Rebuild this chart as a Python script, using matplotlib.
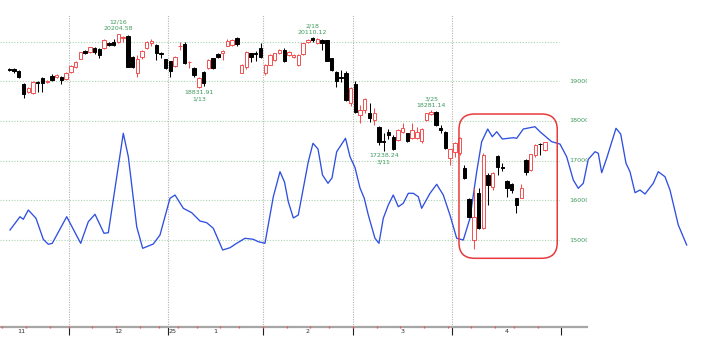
import numpy as np
import pandas as pd
import matplotlib
matplotlib.use('Agg')
import matplotlib.pyplot as plt
import matplotlib.transforms as mtransforms
from matplotlib.patches import FancyBboxPatch

plt.rcParams['font.family'] = ['DejaVu Sans']

# trading days shown (Nov 2024 - Apr 2025)
dates = [
    '2024-11-12', '2024-11-13', '2024-11-14', '2024-11-15', '2024-11-18', '2024-11-19', '2024-11-20',
    '2024-11-21', '2024-11-22', '2024-11-25', '2024-11-26', '2024-11-27', '2024-11-29',
    '2024-12-02', '2024-12-03', '2024-12-04', '2024-12-05', '2024-12-06', '2024-12-09', '2024-12-10',
    '2024-12-11', '2024-12-12', '2024-12-13', '2024-12-16', '2024-12-17', '2024-12-18', '2024-12-19',
    '2024-12-20', '2024-12-23', '2024-12-24', '2024-12-26', '2024-12-27', '2024-12-30', '2024-12-31',
    '2025-01-02', '2025-01-03', '2025-01-06', '2025-01-07', '2025-01-08', '2025-01-10', '2025-01-13',
    '2025-01-14', '2025-01-15', '2025-01-16', '2025-01-17', '2025-01-21', '2025-01-22', '2025-01-23',
    '2025-01-24', '2025-01-27', '2025-01-28', '2025-01-29', '2025-01-30', '2025-01-31',
    '2025-02-03', '2025-02-04', '2025-02-05', '2025-02-06', '2025-02-07', '2025-02-10', '2025-02-11',
    '2025-02-12', '2025-02-13', '2025-02-14', '2025-02-18', '2025-02-19', '2025-02-20', '2025-02-21',
    '2025-02-24', '2025-02-25', '2025-02-26', '2025-02-27', '2025-02-28',
    '2025-03-03', '2025-03-04', '2025-03-05', '2025-03-06', '2025-03-07', '2025-03-10', '2025-03-11',
    '2025-03-12', '2025-03-13', '2025-03-14', '2025-03-17', '2025-03-18', '2025-03-19', '2025-03-20',
    '2025-03-21', '2025-03-24', '2025-03-25', '2025-03-26', '2025-03-27', '2025-03-28', '2025-03-31',
    '2025-04-01', '2025-04-02', '2025-04-03', '2025-04-04', '2025-04-07', '2025-04-08', '2025-04-09',
    '2025-04-10', '2025-04-11', '2025-04-14', '2025-04-15', '2025-04-16', '2025-04-17', '2025-04-21',
    '2025-04-22', '2025-04-23', '2025-04-24', '2025-04-25', '2025-04-28', '2025-04-29',
]

opens = [
    19305, 19300, 19270, 18930, 18740, 18710, 18995, 19085, 18990, 19135, 19110, 19110, 19060,
    19235, 19360, 19562, 19764, 19740, 19845, 19810, 19832, 19960, 20000, 19990, 20085, 20150, 19620,
    19200, 19620, 19832, 19960, 19915, 19720, 19555,
    19500, 19386, 19880, 19940, 19480, 19328, 18864, 19240, 19328, 19580, 19690, 19706, 19890, 19915,
    20084, 19220, 19370, 19706, 19720, 19832,
    19200, 19411, 19537, 19706, 19790, 19660, 19620, 19411, 19680, 19983, 20100, 19975, 20040, 20040,
    19595, 19242, 19110, 19202, 18446,
    18925, 18151, 18277, 18194, 18025, 17856, 17500, 17730, 17605, 17520, 17730, 17690, 17565, 17565,
    17500, 18025, 18170, 18220, 17830, 17730, 17060,
    17212, 17193, 16808, 16035, 15001, 16178, 15296, 16640, 16345, 17118, 16840, 16488, 16405, 16052,
    16067, 17017, 16765, 17143, 17425, 17269,
]
highs = [
    19345, 19330, 19290, 18950, 18860, 19000, 19000, 19110, 19040, 19180, 19180, 19130, 19230,
    19410, 19500, 19750, 19790, 19870, 19860, 19850, 20060, 19990, 20060, 20204.58, 20140, 20160, 19640,
    19660, 19790, 20020, 20060, 19940, 19730, 19570,
    19520, 19640, 20000, 19980, 19520, 19370, 19100, 19250, 19560, 19600, 19720, 19790, 20070, 20060,
    20120, 19430, 19760, 19720, 19760, 19976,
    19430, 19680, 19720, 19810, 19830, 19760, 19690, 19680, 19970, 20060, 20110.12, 20080, 20060, 20050,
    19600, 19260, 19285, 19260, 18850,
    19010, 18400, 18580, 18446, 18330, 17880, 17690, 17790, 17640, 17790, 17942, 17700, 17942, 17850,
    17830, 18210, 18281.14, 18250, 17900, 17750, 17300,
    17460, 17600, 16900, 16060, 16304, 16300, 17200, 16680, 16720, 17140, 16940, 16520, 16440, 16070,
    16405, 17050, 17180, 17410, 17440, 17480,
]
lows = [
    19250, 19210, 19090, 18590, 18700, 18690, 18740, 18730, 18960, 19000, 19090, 18935, 19045,
    19220, 19340, 19550, 19690, 19720, 19680, 19600, 19820, 19890, 19880, 19960, 19990, 19360, 19330,
    19100, 19560, 19820, 19900, 19540, 19580, 19300,
    19120, 19370, 19790, 19440, 19330, 19100, 18831.91, 18880, 19300, 19300, 19600, 19540, 19880, 19880,
    19900, 19200, 19300, 19494, 19500, 19600,
    19150, 19400, 19520, 19690, 19480, 19640, 19580, 19390, 19670, 19970, 19990, 19950, 19790, 19500,
    19270, 18864, 18990, 18510, 18370,
    18200, 17942, 18200, 17982, 17900, 17395, 17238.24, 17540, 17260, 17500, 17700, 17460, 17550, 17540,
    17440, 18000, 18150, 17880, 17690, 17300, 16890,
    17100, 17150, 16540, 15570, 14784, 15270, 15270, 15883, 16250, 16640, 16730, 16092, 16178, 15674,
    16050, 16640, 16750, 17100, 17143, 17250,
]
closes = [
    19285, 19265, 19107, 18670, 18820, 18987, 18950, 18960, 19003, 19035, 19160, 19035, 19210,
    19386, 19487, 19735, 19714, 19860, 19740, 19665, 20030, 19915, 19915, 20190, 20110, 19370, 19370,
    19573, 19772, 20000, 20020, 19706, 19690, 19328,
    19270, 19620, 19895, 19455, 19494, 19160, 19076, 18970, 19537, 19328, 19620, 19770, 20016, 20040,
    19940, 19400, 19746, 19620, 19700, 19620,
    19411, 19663, 19706, 19790, 19520, 19750, 19663, 19663, 19958, 20040, 20041, 20060, 19958, 19512,
    19285, 19008, 19090, 18529, 18824,
    18234, 18277, 18554, 18068, 18194, 17478, 17463, 17648, 17295, 17773, 17816, 17496, 17773, 17715,
    17810, 18194, 18234, 17900, 17775, 17312, 17294,
    17438, 17564, 16556, 15588, 15588, 15296, 17143, 16387, 16682, 16848, 16824, 16304, 16261, 15883,
    16304, 16722, 17160, 17395, 17410, 17463,
]

# blue projection line (trading-day position, value), runs past the last candle
cycle_pos = [
    0.15, 2.26, 2.95, 4.01, 5.63, 7.17, 8.23, 9.07, 12.11, 15.06, 16.67, 18.08, 19.98, 20.89,
    24.05, 25.11, 26.88, 28.14, 30.38, 31.79, 33.90, 34.96, 36.71, 38.48, 40.23, 41.65, 43.04,
    45.02, 46.56, 47.97, 49.73, 51.48, 52.53, 53.94, 55.70, 57.11, 58.06, 58.86, 59.92, 60.97,
    63.08, 64.07, 65.13, 66.08, 67.24, 68.08, 69.07, 70.93, 71.88, 72.93, 73.99, 74.89, 75.74,
    77.15, 77.99, 78.90, 79.96, 81.01, 82.07, 83.12, 84.18, 85.23, 86.29, 87.00, 88.76, 90.17,
    91.56, 92.97, 94.39, 95.78, 97.19, 98.61, 99.66, 100.93, 101.90, 102.83, 104.01, 106.33,
    107.05, 108.44, 110.91, 111.96, 114.43, 116.18, 117.59, 118.99, 120.04, 121.10, 122.15,
    123.57, 124.26, 124.98, 126.03, 128.00, 128.99, 130.11, 130.95, 132.01, 133.06, 134.12,
    135.86, 136.92, 138.33, 139.39, 141.14, 142.91,
]
cycle_val = [
    15253, 15588, 15523, 15757, 15548, 15019, 14893, 14918, 15588, 14918, 15462, 15649, 15170, 15185,
    17690, 17100, 15336, 14792, 14900, 15127, 16052, 16135, 15800, 15689, 15480, 15437, 15296,
    14749, 14807, 14918, 15044, 15019, 14958, 14918, 16092, 16722, 16463, 15966, 15556, 15631,
    16974, 17438, 17294, 16639, 16430, 16564, 17226, 17564, 17100, 16828, 16312, 16052, 15631,
    15044, 14918, 15548, 15883, 16135, 15840, 15926, 16178, 16178, 16092, 15800, 16178, 16405,
    16135, 15631, 15044, 15001, 15548, 16722, 17478, 17798, 17604, 17730, 17546, 17579,
    17564, 17798, 17856, 17730, 17478, 17420, 17100, 16513, 16304, 16430, 17035,
    17226, 17186, 16697, 17060, 17816, 17672, 16934, 16722, 16193, 16261, 16160,
    16430, 16722, 16596, 16261, 15379, 14875,
]

# first trading-day slot of each month (Nov starts before the window, May is in the projection)
month_first = [-7, 13, 34, 54, 73, 94, 117]
month_names = ['11', '12', '1', '2', '3', '4']
year_label = '25'

grid_levels = [20000, 19000, 18000, 17000, 16000, 15000]
price_labels = [19000, 18000, 17000, 16000, 15000]

ann_pos = [23, 40, 64, 79, 89]
ann_date = ['12/16', '1/13', '2/18', '3/11', '3/25']
ann_val = [20204.58, 18831.91, 20110.12, 17238.24, 18281.14]
ann_side = ['high', 'low', 'high', 'low', 'high']

RED = '#f25050'
BLACK = '#000000'
GREEN_TXT = '#3f9a5e'
GRID_GREEN = '#a8d4b0'

fig = plt.figure(figsize=(7.06, 3.40), dpi=100)
ax = fig.add_axes([0, 13 / 340, 587 / 706, 327 / 340])
ax.set_xlim(-1.962, 121.88)
ax.set_ylim(12808.8, 21049.2)

x = np.arange(len(dates))
o = np.array(opens, float)
h = np.array(highs, float)
l = np.array(lows, float)
c = np.array(closes, float)
up = c >= o

# grid
ax.hlines(grid_levels, -1.962, 116, colors=GRID_GREEN, linestyles=(0, (1, 1.5)), lw=0.8, zorder=1)
vx = [m - 0.5 for m in month_first if 0 < m < len(dates)]
ax.vlines(vx, ax.get_ylim()[0], 20671, colors='#b4b4b4', linestyles=(0, (1, 1.2)), lw=0.8, zorder=1)

# blue line
ax.plot(cycle_pos, cycle_val, color='#2f50e0', lw=0.95, zorder=2, clip_on=False)

# candles
col = np.where(up, RED, BLACK)
ax.vlines(x, l, h, colors=col, lw=0.75, zorder=3)
body_lo = np.minimum(o, c)
body_h = np.maximum(np.abs(c - o), 6)
ax.bar(x, body_h, bottom=body_lo, width=0.72, color=np.where(up, 'white', BLACK),
       edgecolor=col, linewidth=0.7, zorder=4)

# high / low notes
for p, d, v, s in zip(ann_pos, ann_date, ann_val, ann_side):
    txt = f'{v:.2f}'
    sign = 1 if s == 'high' else -1
    ax.annotate(txt, (p, v), xytext=(0, 3.3 * sign), textcoords='offset points', ha='center',
                va='center', fontsize=4.5, color=GREEN_TXT)
    ax.annotate(d, (p, v), xytext=(0, 8.0 * sign), textcoords='offset points', ha='center',
                va='center', fontsize=4.5, color=GREEN_TXT)

# price labels on the right, cut by the panel edge
for v in price_labels:
    ax.text(118.1, v, str(v), ha='left', va='center', fontsize=4.6, color=GREEN_TXT, clip_on=True)

# red rounded box around April
box = FancyBboxPatch((94.87, 14540), 115.6 - 94.87, 18176 - 14540,
                     boxstyle='round,pad=0,rounding_size=3.3', mutation_aspect=119.6,
                     fill=False, edgecolor='#e83a3a', lw=1.1, zorder=5)
ax.add_patch(box)

# axis
for sp in ['top', 'right', 'left']:
    ax.spines[sp].set_visible(False)
ax.spines['bottom'].set_color('#a6a6a6')
ax.spines['bottom'].set_linewidth(1.6)
ax.set_yticks([])

ticks = [m - 0.5 for m in month_first[1:]]
centers = [(a + b - 1) / 2 for a, b in zip(month_first[:-1], month_first[1:])]
ax.set_xticks(ticks)
ax.set_xticklabels([''] * len(ticks))
ax.tick_params(axis='x', which='major', direction='out', length=6, width=0.8, color='#202020')
ax.set_xticks(centers, minor=True)
ax.set_xticklabels(month_names, minor=True)
ax.tick_params(axis='x', which='minor', length=0, pad=1.5, labelsize=4.6, labelcolor='#303030')
ax.annotate(year_label, (month_first[2] - 0.3, 0), xycoords=mtransforms.blended_transform_factory(
    ax.transData, ax.transAxes), xytext=(0, -1.5), textcoords='offset points',
    ha='left', va='top', fontsize=4.6, color='#303030')

# weekly marks on the axis line
dt = pd.to_datetime(dates)
wd = dt.weekday.values
week_pos = [-0.5 - wd[0]] + [i - 0.5 for i in range(1, len(dates)) if wd[i] < wd[i - 1]]
ax.plot(week_pos, [0] * len(week_pos), ls='none', marker='|', ms=1.8, mew=0.9, color=RED,
        transform=mtransforms.blended_transform_factory(ax.transData, ax.transAxes),
        clip_on=False, zorder=6)

fig.savefig('out.png', dpi=100)
